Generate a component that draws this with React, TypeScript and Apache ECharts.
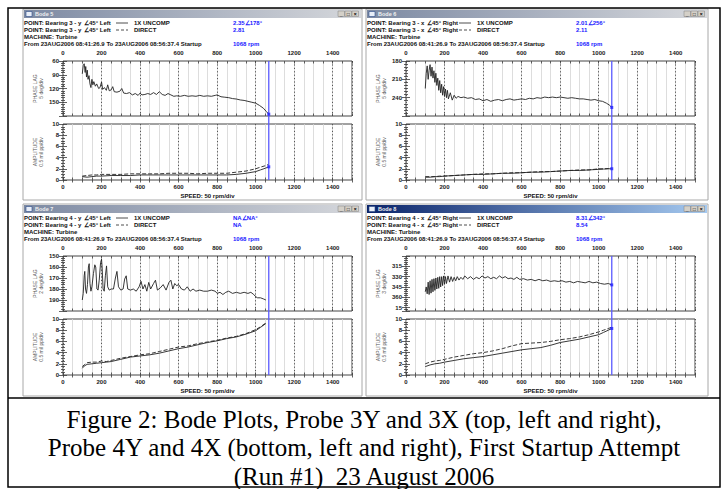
import React, { useEffect, useRef } from "react";
import * as echarts from "echarts";

const SANS = '"Liberation Sans", Arial, sans-serif';
const SERIF = '"Liberation Serif", "Times New Roman", serif';

const xTickLabels = [0, 200, 400, 600, 800, 1000, 1200, 1400];
const cursorRpm = 1068;

const captionLines = [
  "Figure 2: Bode Plots, Probe 3Y and 3X (top, left and right),",
  "Probe 4Y and 4X (bottom, left and right), First Startup Attempt",
  "(Run #1)  23 August 2006",
];

// ---- Probe 3Y ----
const phase3y: [number, number][] = [
  [100, 88], [105, 70], [110, 66], [115, 85], [118, 72], [122, 95], [126, 80], [130, 100], [135, 92], [140, 110],
  [145, 118], [150, 100], [155, 112], [160, 105], [168, 115], [175, 110], [185, 120], [192, 118], [200, 106], [206, 122],
  [215, 118], [225, 124], [232, 112], [240, 125], [250, 123], [258, 116], [266, 127], [280, 128], [295, 126], [305, 120],
  [315, 130], [330, 131], [345, 129], [360, 134], [375, 131], [390, 135], [400, 130], [410, 134], [425, 133], [440, 131],
  [455, 133], [470, 129], [485, 133], [500, 127], [515, 133], [530, 135], [545, 131], [560, 134], [575, 137], [590, 136],
  [610, 137], [630, 135], [650, 137], [670, 136], [690, 137], [710, 135], [730, 137], [750, 136], [770, 137], [790, 135],
  [800, 134], [820, 138], [840, 139], [860, 140], [880, 142], [900, 143], [920, 145], [940, 146], [960, 148], [980, 150],
  [1000, 152], [1020, 157], [1040, 163], [1055, 170], [1068, 176],
];
const ampRpm = [100, 125, 150, 175, 200, 250, 300, 350, 400, 450, 500, 550, 600, 650, 700, 750, 800, 850, 900, 950, 1000, 1025, 1050, 1068];
const amp3y1x = [0.6, 0.5, 0.6, 0.7, 0.7, 0.8, 0.8, 0.8, 0.9, 0.9, 0.9, 0.9, 0.9, 0.9, 0.9, 0.9, 0.9, 0.9, 1.0, 1.2, 1.5, 1.8, 2.1, 2.35];
const amp3yDirect = [0.7, 0.8, 0.9, 0.9, 1.0, 1.0, 1.0, 1.1, 1.1, 1.1, 1.1, 1.2, 1.2, 1.2, 1.1, 1.2, 1.2, 1.2, 1.4, 1.6, 2.0, 2.3, 2.55, 2.81];

// ---- Probe 3X ----
const phase3x: [number, number][] = [
  [100, 225], [105, 200], [110, 188], [115, 210], [120, 195], [125, 186], [130, 205], [135, 190], [140, 208], [145, 196],
  [150, 215], [155, 200], [160, 220], [165, 208], [170, 228], [175, 212], [180, 232], [185, 218], [190, 236], [195, 222],
  [200, 238], [205, 226], [210, 240], [215, 228], [220, 242], [230, 232], [240, 244], [250, 236], [260, 241], [270, 238],
  [285, 240], [300, 239], [320, 241], [340, 240], [360, 243], [380, 242], [400, 245], [420, 243], [440, 246], [460, 244],
  [480, 243], [500, 245], [520, 243], [540, 242], [560, 244], [580, 243], [600, 242], [620, 243], [640, 241], [660, 242],
  [680, 240], [700, 241], [720, 239], [740, 240], [760, 239], [780, 240], [800, 239], [820, 240], [840, 241], [860, 240],
  [880, 241], [900, 242], [920, 242], [940, 243], [960, 244], [980, 243], [1000, 245], [1020, 246], [1040, 249], [1055, 252],
  [1068, 256],
];
const amp3x1x = [0.5, 0.5, 0.6, 0.6, 0.7, 0.8, 0.9, 1.0, 1.0, 1.1, 1.2, 1.2, 1.3, 1.4, 1.4, 1.5, 1.6, 1.7, 1.7, 1.8, 1.9, 1.95, 2.0, 2.01];
const amp3xDirect = [0.6, 0.6, 0.6, 0.7, 0.7, 0.8, 0.9, 1.0, 1.1, 1.1, 1.2, 1.3, 1.3, 1.4, 1.5, 1.5, 1.6, 1.7, 1.8, 1.8, 2.0, 2.0, 2.05, 2.11];

// ---- Probe 4Y ----
const phase4y: [number, number][] = [
  [100, 190], [105, 184], [110, 168], [113, 164], [117, 180], [122, 184], [127, 176], [132, 160], [136, 157], [140, 175],
  [145, 182], [150, 178], [158, 166], [165, 158], [170, 160], [176, 180], [182, 181], [188, 172], [195, 156], [200, 153],
  [203, 160], [208, 180], [214, 182], [220, 168], [226, 159], [232, 178], [240, 181], [250, 180], [262, 180], [272, 170],
  [280, 164], [288, 178], [300, 181], [312, 180], [320, 171], [328, 168], [336, 180], [350, 181], [365, 180], [380, 182],
  [395, 178], [405, 173], [415, 180], [425, 176], [435, 182], [445, 174], [455, 180], [470, 175], [480, 172], [490, 181],
  [505, 179], [520, 176], [535, 181], [550, 174], [560, 172], [570, 180], [580, 175], [590, 177], [600, 176], [615, 180],
  [630, 181], [645, 178], [660, 182], [675, 180], [690, 182], [710, 181], [730, 182], [750, 182], [770, 181], [790, 182],
  [800, 184], [815, 183], [830, 185], [845, 183], [860, 182], [880, 184], [900, 183], [920, 184], [940, 183], [960, 184],
  [975, 183], [990, 185], [1000, 187], [1010, 188], [1025, 188], [1040, 189], [1053, 190],
];
const ampRpm4y = [100, 110, 125, 150, 175, 200, 225, 250, 300, 350, 400, 450, 500, 550, 600, 650, 700, 750, 800, 850, 900, 950, 1000, 1025, 1053];
const amp4y1x = [1.2, 1.6, 1.9, 2.0, 2.1, 2.2, 2.3, 2.4, 2.8, 3.2, 3.4, 3.6, 3.9, 4.3, 4.7, 5.0, 5.4, 5.8, 6.1, 6.5, 6.8, 7.3, 7.9, 8.5, 9.2];
const amp4yDirect = [1.5, 1.8, 2.2, 2.3, 2.3, 2.5, 2.4, 2.6, 3.0, 3.3, 3.6, 3.8, 4.2, 4.6, 5.0, 5.2, 5.6, 5.9, 6.2, 6.6, 6.9, 7.4, 8.1, 8.6, 9.3];

// ---- Probe 4X ---- (phase unwrapped past 360)
const phase4x: [number, number][] = [
  [100, 352], [105, 345], [110, 355], [115, 338], [120, 356], [125, 336], [130, 354], [135, 334], [140, 352], [145, 333],
  [150, 350], [155, 332], [160, 348], [165, 331], [170, 347], [175, 330], [180, 345], [185, 330], [190, 343], [195, 329],
  [200, 341], [205, 330], [210, 340], [218, 329], [226, 338], [234, 330], [242, 337], [250, 331], [258, 336], [266, 330],
  [275, 335], [285, 331], [295, 334], [305, 329], [320, 333], [335, 330], [350, 334], [365, 331], [380, 333], [395, 329],
  [410, 332], [425, 330], [440, 333], [455, 331], [470, 333], [485, 329], [500, 332], [515, 330], [530, 333], [545, 332],
  [560, 334], [575, 331], [590, 334], [610, 333], [630, 335], [650, 334], [670, 336], [690, 334], [710, 336], [730, 335],
  [750, 337], [770, 336], [790, 337], [810, 336], [830, 338], [850, 337], [870, 339], [890, 337], [910, 338], [930, 339],
  [950, 337], [970, 339], [990, 338], [1010, 340], [1030, 341], [1050, 340], [1068, 342],
];
const amp4x1x = [1.5, 1.8, 2.0, 2.1, 2.3, 2.6, 2.9, 3.1, 3.3, 3.6, 3.9, 4.2, 4.5, 4.7, 4.9, 5.3, 5.8, 6.1, 6.4, 6.8, 7.2, 7.6, 8.0, 8.31];
const amp4xDirect = [2.0, 2.3, 2.5, 2.6, 2.8, 3.2, 3.5, 3.8, 4.0, 4.3, 4.7, 5.2, 5.6, 5.7, 5.8, 6.0, 6.3, 6.5, 6.8, 7.2, 7.7, 8.0, 8.3, 8.54];

const panels = [
  {
    wx: 23, wy: 9, ww: 339, wh: 191, title: "Bode 5", active: false,
    point: "POINT: Bearing 3 - y", dir: "∠45° Left", v1: "2.35∠178°", v2: "2.81",
    phase: phase3y, pMin: 60, pMax: 180, pInt: 30, pMinor: 6, pUnit: "5 deg/div",
    ampX: ampRpm, amp1: amp3y1x, amp2: amp3yDirect, dots: true, wrap: false,
  },
  {
    wx: 366, wy: 9, ww: 342, wh: 191, title: "Bode 6", active: false,
    point: "POINT: Bearing 3 - x", dir: "∠45° Right", v1: "2.01∠256°", v2: "2.11",
    phase: phase3x, pMin: 180, pMax: 270, pInt: 30, pMinor: 6, pUnit: "5 deg/div",
    ampX: ampRpm, amp1: amp3x1x, amp2: amp3xDirect, dots: true, wrap: false,
  },
  {
    wx: 23, wy: 204, ww: 339, wh: 192, title: "Bode 7", active: false,
    point: "POINT: Bearing 4 - y", dir: "∠45° Left", v1: "NA∠NA°", v2: "NA",
    phase: phase4y, pMin: 150, pMax: 200, pInt: 10, pMinor: 5, pUnit: "2 deg/div",
    ampX: ampRpm4y, amp1: amp4y1x, amp2: amp4yDirect, dots: false, wrap: false,
  },
  {
    wx: 366, wy: 204, ww: 342, wh: 192, title: "Bode 8", active: true,
    point: "POINT: Bearing 4 - x", dir: "∠45° Right", v1: "8.31∠342°", v2: "8.54",
    phase: phase4x, pMin: 300, pMax: 380, pInt: 15, pMinor: 5, pUnit: "3 deg/div",
    ampX: ampRpm, amp1: amp4x1x, amp2: amp4xDirect, dots: true, wrap: true,
  },
];

function buildOption() {
  const grid: any[] = [];
  const xAxis: any[] = [];
  const yAxis: any[] = [];
  const series: any[] = [];
  const g: any[] = [];
  const axisColor = "#3a3a3a";
  const labelStyle = { fontSize: 6, fontWeight: "bold", color: "#1a1a1a", fontFamily: SANS };
  const xFmt = (v: number) => (xTickLabels.includes(v) ? String(v) : "");

  g.push({ type: "rect", shape: { x: 0, y: 0, width: 727, height: 489 }, style: { fill: "#fff" }, z: -20 });

  const addPlot = (p: any, kind: "phase" | "amp", top: number, height: number) => {
    const left = p.wx + 40;
    const gi = grid.length;
    grid.push({ left, top, width: 289, height, show: true, borderColor: "#444", borderWidth: 1, backgroundColor: "transparent" });
    const xa = xAxis.length;
    xAxis.push({
      type: "value", gridIndex: gi, min: 0, max: 1500, interval: 50, position: "bottom",
      axisLine: { show: false },
      axisTick: { show: true, inside: true, length: 2.5, lineStyle: { color: axisColor, width: 0.8 } },
      splitLine: { show: true, lineStyle: { color: "#d4d4d4", width: 0.8 } },
      axisLabel: { show: kind === "amp", formatter: xFmt, margin: 4, ...labelStyle },
    });
    xAxis.push({
      type: "value", gridIndex: gi, min: 0, max: 1500, interval: 50, position: "top",
      axisLine: { show: false },
      axisTick: { show: true, inside: true, length: 2.5, lineStyle: { color: axisColor, width: 0.8 } },
      splitLine: { show: false },
      axisLabel: { show: kind === "phase", formatter: xFmt, margin: 5, ...labelStyle },
    });
    xAxis.push({
      type: "value", gridIndex: gi, min: 0, max: 1500, interval: 200, position: "bottom",
      axisLine: { show: false }, axisTick: { show: false }, axisLabel: { show: false },
      splitLine: { show: true, lineStyle: { color: "#555", width: 1, type: [1.2, 2.2] } },
    });
    const isPhase = kind === "phase";
    const ymin = isPhase ? p.pMin : 0;
    const ymax = isPhase ? p.pMax : 10;
    const yint = isPhase ? p.pInt : 2;
    const yminor = isPhase ? p.pMinor : 4;
    const ya = yAxis.length;
    yAxis.push({
      type: "value", gridIndex: gi, min: ymin, max: ymax, interval: yint, inverse: isPhase, position: "left",
      axisLine: { show: false },
      axisTick: { show: true, inside: true, length: 4, lineStyle: { color: axisColor, width: 0.8 } },
      minorTick: { show: true, splitNumber: yminor, length: 2, lineStyle: { color: axisColor, width: 0.8 } },
      splitLine: { show: false },
      axisLabel: {
        show: true, margin: 4, showMaxLabel: !isPhase, showMinLabel: true, ...labelStyle,
        formatter: (v: number) => {
          if (isPhase && p.wrap) {
            if (v === ymin) return "";
            const m = v % 360;
            return String(m === 0 ? 360 : m);
          }
          return String(v);
        },
      },
      name: isPhase ? "PHASE LAG\n" + p.pUnit : "AMPLITUDE\n0.5 mil pp/div",
      nameLocation: "middle", nameRotate: 90, nameGap: 19,
      nameTextStyle: { fontSize: 5, color: "#555", lineHeight: 5.8, fontFamily: SANS },
    });
    yAxis.push({
      type: "value", gridIndex: gi, min: ymin, max: ymax, interval: yint, inverse: isPhase, position: "right",
      axisLine: { show: false },
      axisTick: { show: true, inside: true, length: 4, lineStyle: { color: axisColor, width: 0.8 } },
      minorTick: { show: true, splitNumber: yminor, length: 2, lineStyle: { color: axisColor, width: 0.8 } },
      splitLine: { show: false }, axisLabel: { show: false },
    });
    return { xa, ya };
  };

  panels.forEach((p) => {
    g.push({ type: "rect", shape: { x: p.wx, y: p.wy, width: p.ww, height: p.wh }, style: { fill: "#fff", stroke: "#a8a8a8", lineWidth: 1 }, z: -10 });
    const grad = p.active
      ? new echarts.graphic.LinearGradient(0, 0, 1, 0, [{ offset: 0, color: "#0a246a" }, { offset: 1, color: "#a6caf0" }])
      : new echarts.graphic.LinearGradient(0, 0, 1, 0, [{ offset: 0, color: "#7d8aa3" }, { offset: 1, color: "#d6d8dc" }]);
    g.push({ type: "rect", shape: { x: p.wx + 1, y: p.wy + 1, width: p.ww - 2, height: 8 }, style: { fill: grad }, z: -9 });
    g.push({ type: "rect", shape: { x: p.wx + 3, y: p.wy + 2.5, width: 6, height: 5 }, style: { fill: "#e8eef8", stroke: "#2a4a8a", lineWidth: 0.6 }, z: -8 });
    g.push({ type: "text", x: p.wx + 12, y: p.wy + 5, style: { text: p.title, fill: "#f0f0f0", font: `bold 5.5px ${SANS}`, verticalAlign: "middle" }, z: -8 });
    [24, 17, 10].forEach((off, i) => {
      g.push({ type: "rect", shape: { x: p.wx + p.ww - off, y: p.wy + 2, width: 6.5, height: 5.5 }, style: { fill: "#d4d0c8", stroke: "#808080", lineWidth: 0.5 }, z: -8 });
      g.push({ type: "text", x: p.wx + p.ww - off + 3.25, y: p.wy + 4.8, style: { text: ["_", "□", "×"][i], fill: "#000", font: `bold 5px ${SANS}`, align: "center", verticalAlign: "middle" }, z: -7 });
    });
    const hx = p.wx + 1;
    const hy = p.wy + 14;
    const hf = `bold 6px ${SANS}`;
    const txt = (x: number, y: number, t: string, fill = "#111") =>
      g.push({ type: "text", x, y, style: { text: t, fill, font: hf, verticalAlign: "middle" }, z: 5 });
    txt(hx, hy, p.point);
    txt(hx + 60, hy, p.dir);
    txt(hx + 110, hy, "1X UNCOMP");
    txt(hx + 209, hy, p.v1, "#1a1aff");
    txt(hx, hy + 7, p.point);
    txt(hx + 60, hy + 7, p.dir);
    txt(hx + 110, hy + 7, "DIRECT");
    txt(hx + 209, hy + 7, p.v2, "#1a1aff");
    txt(hx, hy + 14, "MACHINE: Turbine");
    txt(hx, hy + 21, "From 23AUG2006 08:41:26.9 To 23AUG2006 08:56:37.4 Startup");
    txt(hx + 209, hy + 21, "1068 rpm", "#1a1aff");
    g.push({ type: "line", shape: { x1: hx + 92, y1: hy, x2: hx + 104, y2: hy }, style: { stroke: "#222", lineWidth: 0.8 }, z: 5 });
    g.push({ type: "line", shape: { x1: hx + 92, y1: hy + 7, x2: hx + 104, y2: hy + 7 }, style: { stroke: "#222", lineWidth: 0.8, lineDash: [3, 2] }, z: 5 });
    g.push({ type: "text", x: p.wx + 40 + 144.5, y: p.wy + 187, style: { text: "SPEED: 50 rpm/div", fill: "#111", font: `bold 6px ${SANS}`, align: "center", verticalAlign: "middle" }, z: 5 });

    const phaseTop = p.wy + 52;
    const ampTop = p.wy + 115;
    const ph = addPlot(p, "phase", phaseTop, 55);
    const am = addPlot(p, "amp", ampTop, 56);

    series.push({
      type: "line", xAxisIndex: ph.xa, yAxisIndex: ph.ya, data: p.phase, showSymbol: false,
      lineStyle: { color: "#222", width: 0.9 }, z: 3,
    });
    series.push({
      type: "line", xAxisIndex: am.xa, yAxisIndex: am.ya, data: p.ampX.map((r: number, i: number) => [r, p.amp1[i]]),
      showSymbol: false, lineStyle: { color: "#222", width: 0.9 }, z: 3,
    });
    series.push({
      type: "line", xAxisIndex: am.xa, yAxisIndex: am.ya, data: p.ampX.map((r: number, i: number) => [r, p.amp2[i]]),
      showSymbol: false, lineStyle: { color: "#222", width: 0.9, type: [4, 2] }, z: 3,
    });

    const cgi = grid.length;
    grid.push({ left: p.wx + 40, top: phaseTop, width: 289, height: ampTop + 56 - phaseTop, show: false });
    const cx = xAxis.length;
    xAxis.push({ type: "value", gridIndex: cgi, min: 0, max: 1500, show: false });
    const cy = yAxis.length;
    yAxis.push({ type: "value", gridIndex: cgi, min: 0, max: 1, show: false });
    series.push({
      type: "line", xAxisIndex: cx, yAxisIndex: cy, data: [[cursorRpm, 0], [cursorRpm, 1]], showSymbol: false,
      lineStyle: { color: "#5a5aff", width: 1.3 }, z: 4,
    });
    if (p.dots) {
      series.push({
        type: "scatter", xAxisIndex: ph.xa, yAxisIndex: ph.ya, data: [p.phase[p.phase.length - 1]],
        symbol: "rect", symbolSize: 3, itemStyle: { color: "#2020ff" }, z: 5,
      });
      series.push({
        type: "scatter", xAxisIndex: am.xa, yAxisIndex: am.ya, data: [[cursorRpm, p.amp1[p.amp1.length - 1]]],
        symbol: "rect", symbolSize: 3, itemStyle: { color: "#2020ff" }, z: 5,
      });
    }
  });

  g.push({ type: "rect", shape: { x: 8, y: 8, width: 712, height: 479 }, style: { fill: "none", stroke: "#000", lineWidth: 1.5 }, z: 50 });
  g.push({ type: "line", shape: { x1: 8, y1: 398, x2: 720, y2: 398 }, style: { stroke: "#000", lineWidth: 1.5 }, z: 50 });
  captionLines.forEach((t, i) => {
    g.push({
      type: "text", x: 364, y: 419 + i * 28.5,
      style: { text: t, fill: "#000", font: `25px ${SERIF}`, align: "center", verticalAlign: "middle" }, z: 50,
    });
  });

  return { animation: false, textStyle: { fontFamily: SANS }, grid, xAxis, yAxis, series, graphic: { elements: g } };
}

export default function App() {
  const ref = useRef<HTMLDivElement>(null);
  useEffect(() => {
    if (!ref.current) return;
    const chart = echarts.init(ref.current, undefined, { renderer: "svg" });
    chart.setOption(buildOption());
    return () => chart.dispose();
  }, []);
  return <div ref={ref} style={{ position: "fixed", left: 0, top: 0, width: 727, height: 489, background: "#fff" }} />;
}
